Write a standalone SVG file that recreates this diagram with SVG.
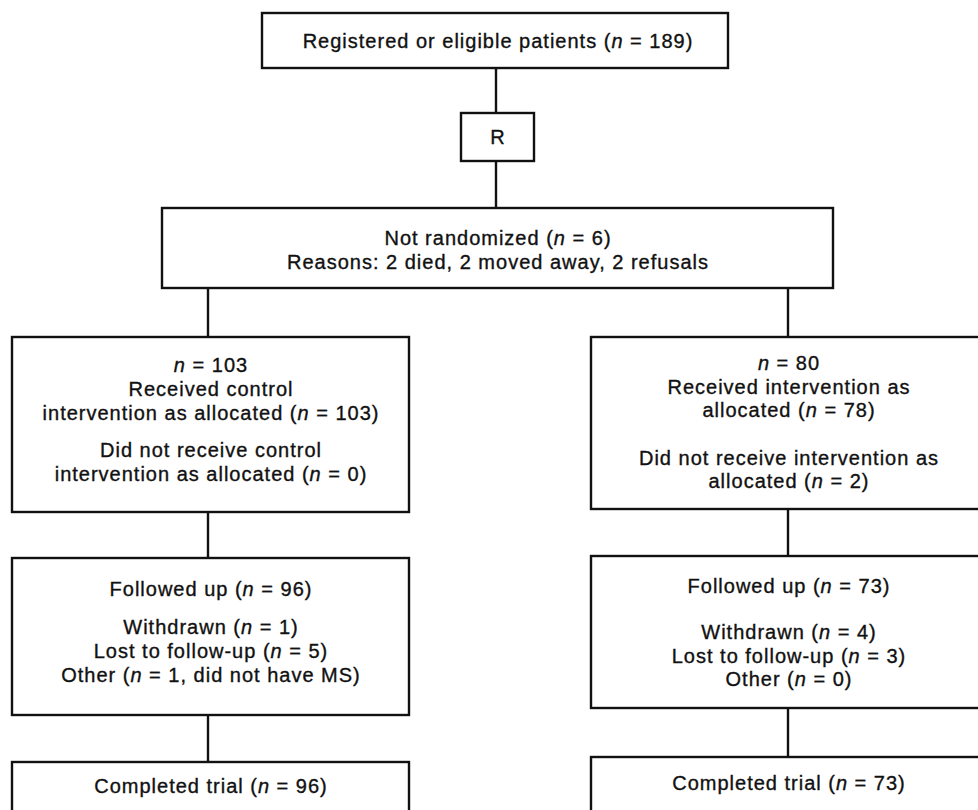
<svg xmlns="http://www.w3.org/2000/svg" width="978" height="810" viewBox="0 0 978 810">
<style>
.box{fill:#fff;stroke:#111;stroke-width:2.4}
.ln{stroke:#111;stroke-width:2.4;fill:none}
text{font-family:"Liberation Sans",Arial,sans-serif;font-size:20px;letter-spacing:1px;fill:#111;stroke:#111;stroke-width:0.35;text-anchor:middle}
.i{font-style:italic}
</style>
<rect width="978" height="810" fill="#fff"/>
<g id="connectors">
<line class="ln" x1="496" y1="68" x2="496" y2="113"/>
<line class="ln" x1="496" y1="161" x2="496" y2="208"/>
<line class="ln" x1="208" y1="288" x2="208" y2="337"/>
<line class="ln" x1="788" y1="288" x2="788" y2="337"/>
<line class="ln" x1="208" y1="512" x2="208" y2="558"/>
<line class="ln" x1="788" y1="509" x2="788" y2="556"/>
<line class="ln" x1="208" y1="715" x2="208" y2="762"/>
<line class="ln" x1="788" y1="708" x2="788" y2="757"/>
</g>
<g id="registered">
<rect class="box" x="262" y="13" width="466" height="55"/>
<text x="498" y="48">Registered or eligible patients (<tspan class="i">n</tspan> = 189)</text>
</g>
<g id="R">
<rect class="box" x="461" y="113" width="73" height="48"/>
<text x="498" y="144">R</text>
</g>
<g id="not-randomized">
<rect class="box" x="162" y="208" width="671" height="80"/>
<text x="498" y="245">Not randomized (<tspan class="i">n</tspan> = 6)</text>
<text x="498" y="269">Reasons: 2 died, 2 moved away, 2 refusals</text>
</g>
<g id="control-allocated">
<rect class="box" x="12" y="337" width="397" height="175"/>
<text x="211" y="372"><tspan class="i">n</tspan> = 103</text>
<text x="211" y="396">Received control</text>
<text x="211" y="420">intervention as allocated (<tspan class="i">n</tspan> = 103)</text>
<text x="211" y="457">Did not receive control</text>
<text x="211" y="481">intervention as allocated (<tspan class="i">n</tspan> = 0)</text>
</g>
<g id="intervention-allocated">
<rect class="box" x="591" y="337" width="400" height="172"/>
<text x="789" y="370"><tspan class="i">n</tspan> = 80</text>
<text x="789" y="394">Received intervention as</text>
<text x="789" y="417">allocated (<tspan class="i">n</tspan> = 78)</text>
<text x="789" y="465">Did not receive intervention as</text>
<text x="789" y="488">allocated (<tspan class="i">n</tspan> = 2)</text>
</g>
<g id="control-followup">
<rect class="box" x="12" y="558" width="397" height="157"/>
<text x="211" y="596">Followed up (<tspan class="i">n</tspan> = 96)</text>
<text x="211" y="634">Withdrawn (<tspan class="i">n</tspan> = 1)</text>
<text x="211" y="658">Lost to follow-up (<tspan class="i">n</tspan> = 5)</text>
<text x="211" y="682">Other (<tspan class="i">n</tspan> = 1, did not have MS)</text>
</g>
<g id="intervention-followup">
<rect class="box" x="591" y="556" width="400" height="152"/>
<text x="789" y="593">Followed up (<tspan class="i">n</tspan> = 73)</text>
<text x="789" y="639">Withdrawn (<tspan class="i">n</tspan> = 4)</text>
<text x="789" y="663">Lost to follow-up (<tspan class="i">n</tspan> = 3)</text>
<text x="789" y="686">Other (<tspan class="i">n</tspan> = 0)</text>
</g>
<g id="control-completed">
<rect class="box" x="12" y="762" width="397" height="60"/>
<text x="211" y="793">Completed trial (<tspan class="i">n</tspan> = 96)</text>
</g>
<g id="intervention-completed">
<rect class="box" x="591" y="757" width="400" height="65"/>
<text x="789" y="790">Completed trial (<tspan class="i">n</tspan> = 73)</text>
</g>
</svg>
